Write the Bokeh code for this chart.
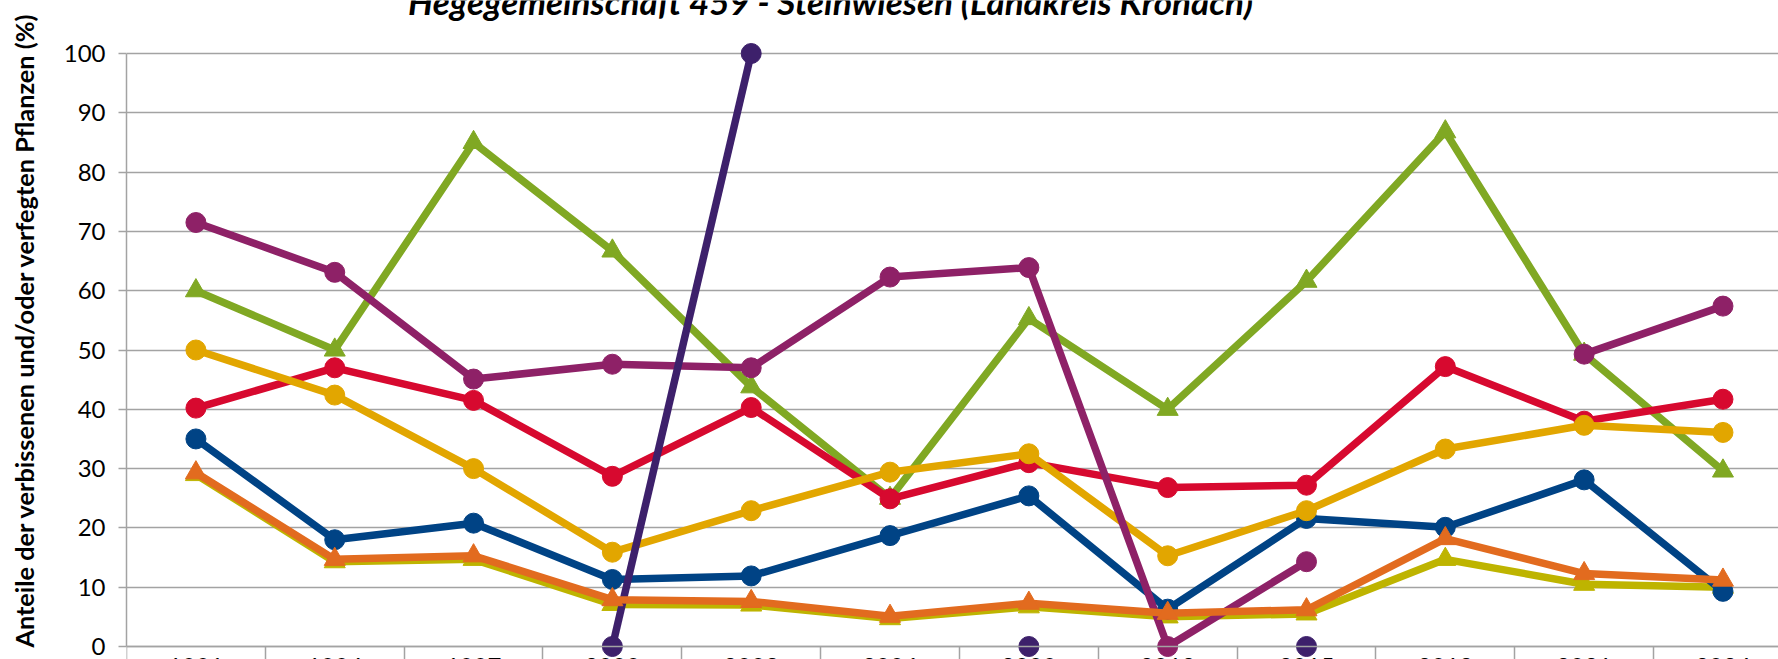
import math
from bokeh.plotting import figure
from bokeh.models import Range1d, FixedTicker, LinearAxis, Label, Grid, ColumnDataSource
from bokeh.embed import file_html
from bokeh.resources import INLINE

nan = float("nan")

years = ["1991", "1994", "1997", "2000", "2003", "2006", "2009", "2012", "2015", "2018", "2021", "2024"]
title_text = "Hegegemeinschaft 459 - Steinwiesen (Landkreis Kronach)"
y_label_text = "Anteile der verbissenen und/oder verfegten Pflanzen (%)"

green = [60.0, 50.0, 85.0, 66.7, 43.8, 25.0, 55.3, 40.0, 61.6, 86.8, 49.3, 29.6]
olive = [29.0, 14.3, 14.7, 7.1, 7.0, 4.7, 6.7, 5.0, 5.5, 14.7, 10.5, 10.0]
blue = [35.0, 18.0, 20.8, 11.3, 11.9, 18.7, 25.4, 6.3, 21.6, 20.1, 28.1, 9.3]
red = [40.2, 47.0, 41.5, 28.7, 40.3, 24.9, 31.0, 26.8, 27.2, 47.2, 38.0, 41.7]
yellow = [50.0, 42.4, 30.0, 15.9, 22.9, 29.4, 32.5, 15.3, 22.9, 33.3, 37.3, 36.1]
magenta = [71.5, 63.1, 45.1, 47.6, 47.0, 62.3, 63.9, 0.0, 14.3, nan, 49.3, 57.4]
darkpurple = [nan, nan, nan, 0.0, 100.0, nan, 0.0, nan, 0.0, nan, nan, nan]
orange = [29.3, 14.7, 15.3, 7.9, 7.6, 5.1, 7.3, 5.6, 6.2, 18.2, 12.3, 11.2]

series = [
    (green, "#80A823", "triangle"),
    (olive, "#BEB400", "triangle"),
    (blue, "#004385", "circle"),
    (red, "#D7092F", "circle"),
    (yellow, "#E2A600", "circle"),
    (magenta, "#8E2167", "circle"),
    (darkpurple, "#3D206B", "circle"),
    (orange, "#E26B1F", "triangle"),
]

xs = list(range(len(years)))

PX_PER_UNIT = 5.93
GRID = "#A3A3A3"
FONT = "Lato"

p = figure(width=1778, height=659, output_backend="svg", toolbar_location=None,
           x_range=Range1d(-0.5, 11.4),
           y_range=Range1d(-13 / PX_PER_UNIT, 100 + 53 / PX_PER_UNIT),
           x_axis_type=None, y_axis_type=None,
           min_border_left=126, min_border_right=0, min_border_top=0, min_border_bottom=0)
p.outline_line_color = None
p.background_fill_color = "white"
p.border_fill_color = "white"

yticker = FixedTicker(ticks=list(range(0, 101, 10)))
yaxis = LinearAxis(ticker=yticker, bounds=(0, 100),
                   axis_line_color=GRID, axis_line_width=1.5,
                   major_tick_line_color=GRID, major_tick_line_width=1.5,
                   major_tick_out=8, major_tick_in=0, minor_tick_out=0, minor_tick_in=0,
                   major_label_standoff=13,
                   major_label_text_font=FONT, major_label_text_font_size="24px",
                   major_label_text_color="#000000")
p.add_layout(yaxis, "left")

ylabel_axis = LinearAxis(ticker=FixedTicker(ticks=[]), bounds=(4, 108),
                         axis_line_color=None, major_tick_line_color=None,
                         minor_tick_line_color=None, major_tick_out=0, major_tick_in=0,
                         minor_tick_out=0, minor_tick_in=0,
                         major_label_text_font_size="0px",
                         axis_label=y_label_text, axis_label_standoff=22,
                         axis_label_text_font=FONT, axis_label_text_font_style="bold",
                         axis_label_text_font_size="25.3px", axis_label_text_color="#000000")
p.add_layout(ylabel_axis, "left")

p.add_layout(Grid(dimension=1, ticker=yticker, grid_line_color=GRID, grid_line_width=1.5))

xaxis_ticks = LinearAxis(ticker=FixedTicker(ticks=[i - 0.5 for i in range(len(years) + 1)]),
                         fixed_location=0,
                         axis_line_color=GRID, axis_line_width=1.5,
                         major_tick_line_color=GRID, major_tick_line_width=1.5,
                         major_tick_out=14, major_tick_in=0, minor_tick_out=0, minor_tick_in=0,
                         major_label_text_font_size="0px")
p.add_layout(xaxis_ticks, "below")

xaxis_labels = LinearAxis(ticker=FixedTicker(ticks=xs), fixed_location=0,
                          axis_line_color=None, major_tick_line_color=None,
                          minor_tick_line_color=None,
                          major_label_overrides={i: y for i, y in zip(xs, years)},
                          major_label_standoff=5,
                          major_label_text_font=FONT, major_label_text_font_size="24px",
                          major_label_text_color="#000000")
p.add_layout(xaxis_labels, "below")

for vals, color, marker in series:
    src = ColumnDataSource(dict(x=xs, y=vals))
    p.line("x", "y", source=src, line_color=color, line_width=7.5, line_join="round")
    p.scatter("x", "y", source=src, marker=marker, size=20 if marker == "circle" else 21,
              fill_color=color, line_color=color)

p.add_layout(Label(x=4.572, y=108.9, text=title_text, text_font=FONT,
                   text_font_style="bold italic", text_font_size="35px",
                   text_align="center", text_baseline="alphabetic", text_color="#000000"))

open("out.html", "w").write(file_html(p, INLINE))
